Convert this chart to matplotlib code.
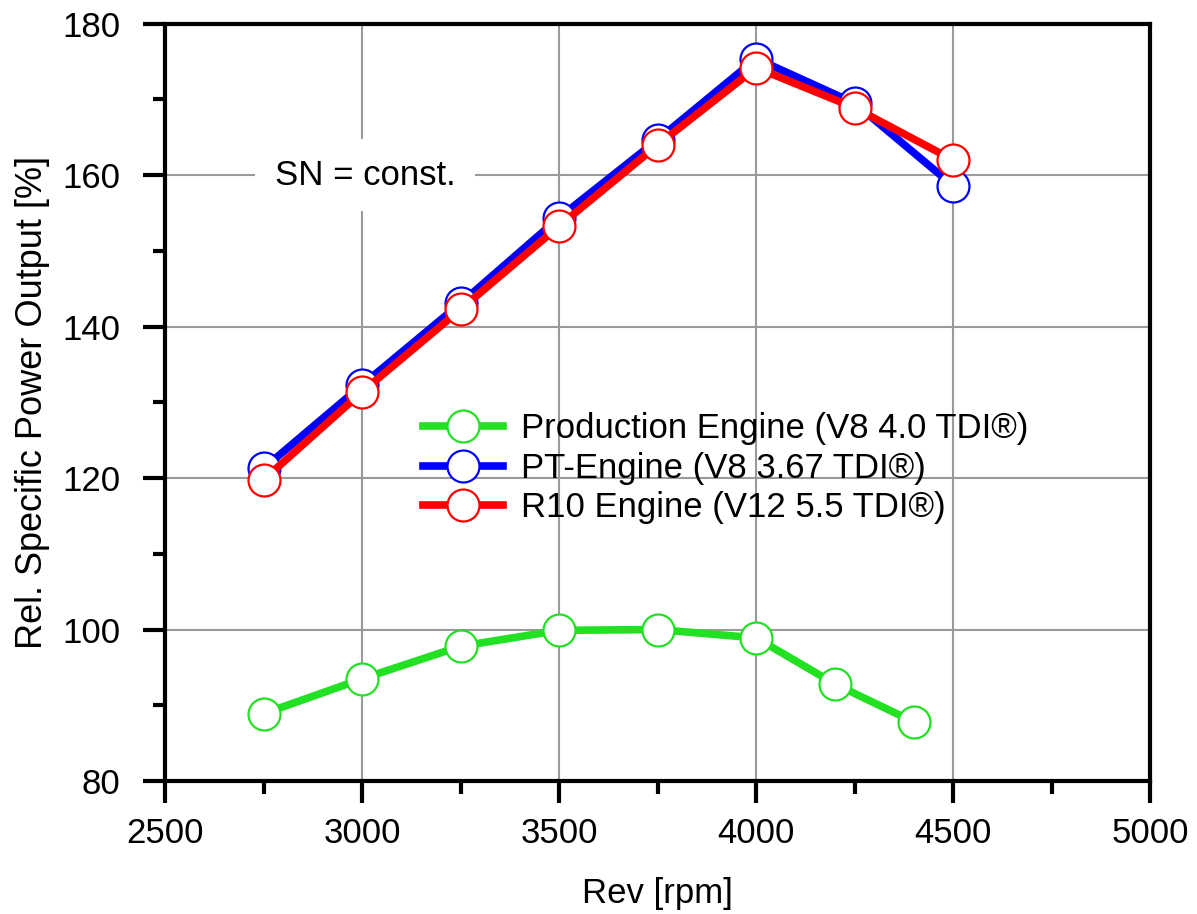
import matplotlib
matplotlib.use("Agg")
import matplotlib.pyplot as plt
from matplotlib.ticker import MultipleLocator

# data
rev_prod = [2750, 3000, 3250, 3500, 3750, 4000, 4200, 4400]
power_prod = [88.9, 93.5, 97.8, 99.9, 100.0, 98.9, 92.8, 87.8]

rev_race = [2750, 3000, 3250, 3500, 3750, 4000, 4250, 4500]
power_pt = [121.3, 132.3, 143.1, 154.4, 164.7, 175.4, 169.5, 158.6]
power_r10 = [119.8, 131.4, 142.3, 153.3, 164.0, 174.2, 168.9, 162.0]

LABELS = [
    "Production Engine (V8 4.0 TDI®)",
    "PT-Engine (V8 3.67 TDI®)",
    "R10 Engine (V12 5.5 TDI®)",
]
COLORS = ["#22e022", "#0000ff", "#ff0000"]

FS = 25

plt.rcParams.update(
    {
        "font.family": ["Liberation Sans", "DejaVu Sans"],
        "font.size": FS,
        "axes.linewidth": 3.0,
    }
)

fig = plt.figure(figsize=(11.97, 9.14), dpi=100)
ax = fig.add_axes([0.138, 0.1455, 0.823, 0.8285])

series = [
    (rev_prod, power_prod),
    (rev_race, power_pt),
    (rev_race, power_r10),
]
for (xs, ys), label, color in zip(series, LABELS, COLORS):
    ax.plot(
        xs,
        ys,
        color=color,
        linewidth=5.5,
        marker="o",
        markersize=23,
        markerfacecolor="white",
        markeredgecolor=color,
        markeredgewidth=1.6,
        label=label,
        zorder=3,
    )

ax.set_xlim(2500, 5000)
ax.set_ylim(80, 180)
ax.xaxis.set_major_locator(MultipleLocator(500))
ax.xaxis.set_minor_locator(MultipleLocator(250))
ax.yaxis.set_major_locator(MultipleLocator(20))
ax.yaxis.set_minor_locator(MultipleLocator(10))
ax.grid(which="major", color="#9a9a9a", linewidth=1.5, zorder=0)
ax.tick_params(which="major", direction="out", length=16, width=3, labelsize=FS, pad=10)
ax.tick_params(axis="y", which="major", pad=16)
ax.tick_params(which="minor", direction="out", length=9, width=3)

ax.set_xlabel("Rev [rpm]", fontsize=FS, labelpad=19)
ax.set_ylabel("Rel. Specific Power Output [%]", fontsize=26, labelpad=9)

ax.text(
    3007,
    160,
    "SN = const.",
    fontsize=FS,
    ha="center",
    va="center",
    bbox=dict(facecolor="white", edgecolor="none", pad=14),
    zorder=2,
)

ax.legend(
    loc="upper left",
    bbox_to_anchor=(0.248, 0.505),
    frameon=False,
    fontsize=FS,
    handlelength=2.3,
    handletextpad=0.5,
    labelspacing=0.18,
    borderaxespad=0.0,
)

fig.savefig("out.png", dpi=100)
